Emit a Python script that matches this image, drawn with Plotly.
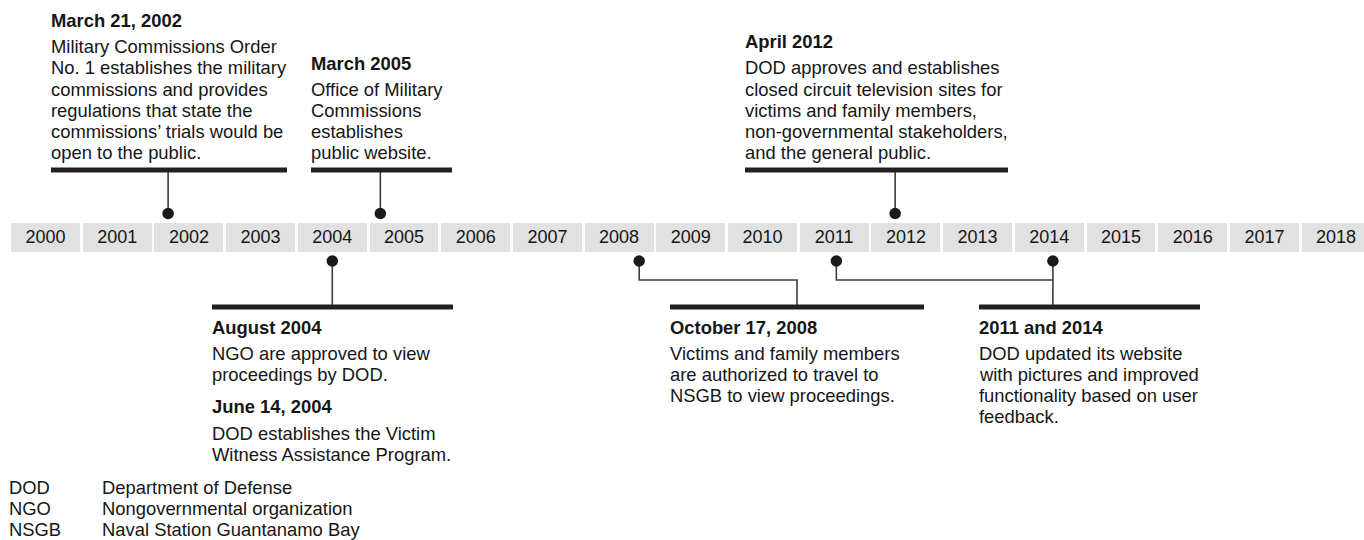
import plotly.graph_objects as go

# ---------------- data ----------------
years = list(range(2000, 2019))
year_labels = [str(y) for y in years]

# events above the time line (decimal year)
top_titles = ["March 21, 2002", "March 2005", "April 2012"]
top_dates = [2002.21, 2005.17, 2012.35]
top_texts = [
    ["Military Commissions Order", "No. 1 establishes the military",
     "commissions and provides", "regulations that state the",
     "commissions\u2019 trials would be", "open to the public."],
    ["Office of Military", "Commissions", "establishes", "public website."],
    ["DOD approves and establishes", "closed circuit television sites for",
     "victims and family members,", "non-governmental stakeholders,",
     "and the general public."],
]

# events below the time line
bottom_titles = ["August 2004", "October 17, 2008", "2011 and 2014"]
bottom_dates = [[2004.50], [2008.78], [2011.53, 2014.55]]
bottom_texts = [
    ["NGO are approved to view", "proceedings by DOD."],
    ["Victims and family members", "are authorized to travel to",
     "NSGB to view proceedings."],
    ["DOD updated its website", "with pictures and improved",
     "functionality based on user", "feedback."],
]
extra_title = "June 14, 2004"
extra_text = ["DOD establishes the Victim", "Witness Assistance Program."]

abbreviations = ["DOD", "NGO", "NSGB"]
definitions = ["Department of Defense", "Nongovernmental organization",
               "Naval Station Guantanamo Bay"]

# ---------------- layout constants (pixels) ----------------
W, H = 1364, 540
PX0, PITCH = 9.65, 71.7
def xd(px):
    return 2000 + (px - PX0) / PITCH

FONT = "Liberation Sans, Arial, Helvetica, sans-serif"
TXT = "#161616"
BAR = "#231f20"
STEM = "#3c3c3c"
FS = 18.4
FS_YEAR = 18
LS = 21.1

top_left = [51, 311, 745]
top_right = [287, 452, 1008]
bot_left = [212, 670, 979]
bot_right = [453, 924, 1200]
TOP_BAR_Y, TOP_DOT_Y = 170, 213.5
BOT_BAR_Y, BOT_DOT_Y, CONN_Y = 307, 261, 280
BOX_TOP, BOX_H = 223, 29

fig = go.Figure()

# year boxes
fig.add_trace(go.Bar(
    x=[y + 0.5 for y in years], y=[BOX_H] * len(years), base=BOX_TOP,
    width=0.962, marker=dict(color="#e1e1e1", line=dict(width=0)),
    hoverinfo="skip", showlegend=False))
fig.add_trace(go.Scatter(
    x=[y + 0.5 for y in years], y=[BOX_TOP + BOX_H / 2 + 0.5] * len(years),
    mode="text", text=year_labels,
    textfont=dict(family=FONT, size=FS_YEAR, color=TXT),
    hoverinfo="skip", showlegend=False))

def line(xs, ys, width, color):
    fig.add_trace(go.Scatter(x=xs, y=ys, mode="lines",
                             line=dict(width=width, color=color),
                             hoverinfo="skip", showlegend=False))

annotations = []
def text(px, py, s, bold=False):
    annotations.append(dict(
        x=(px - 2) / W, xref="paper", y=py, yref="y", xanchor="left",
        yanchor="middle", showarrow=False,
        text=("<b>%s</b>" % s) if bold else s,
        font=dict(family=FONT, size=FS, color=TXT)))

# top callouts
for i, d in enumerate(top_dates):
    line([d, d], [TOP_DOT_Y, TOP_BAR_Y], 1.6, STEM)
    line([xd(top_left[i]), xd(top_right[i])], [TOP_BAR_Y, TOP_BAR_Y], 5, BAR)
    lines = top_texts[i]
    last = 152.3
    first = last - LS * (len(lines) - 1)
    text(top_left[i], first - 26, top_titles[i], bold=True)
    for k, s in enumerate(lines):
        text(top_left[i], first + LS * k, s)

# bottom callouts: connectors
aug = bottom_dates[0][0]
line([aug, aug], [BOT_DOT_Y, BOT_BAR_Y], 1.6, STEM)
octd = bottom_dates[1][0]
elbow = xd((bot_left[1] + bot_right[1]) / 2)
line([octd, octd, elbow, elbow], [BOT_DOT_Y, CONN_Y, CONN_Y, BOT_BAR_Y], 1.6, STEM)
d11, d14 = bottom_dates[2]
line([d11, d11, d14], [BOT_DOT_Y, CONN_Y, CONN_Y], 1.6, STEM)
line([d14, d14], [BOT_DOT_Y, BOT_BAR_Y], 1.6, STEM)

for i in range(3):
    line([xd(bot_left[i]), xd(bot_right[i])], [BOT_BAR_Y, BOT_BAR_Y], 5, BAR)
    text(bot_left[i], 327, bottom_titles[i], bold=True)
    for k, s in enumerate(bottom_texts[i]):
        text(bot_left[i], 353.3 + LS * k, s)

text(bot_left[0], 406.5, extra_title, bold=True)
for k, s in enumerate(extra_text):
    text(bot_left[0], 433 + LS * k, s)

# dots
dot_x = top_dates + [d for g in bottom_dates for d in g]
dot_y = [TOP_DOT_Y] * len(top_dates) + [BOT_DOT_Y] * sum(len(g) for g in bottom_dates)
fig.add_trace(go.Scatter(x=dot_x, y=dot_y, mode="markers",
                         marker=dict(size=11.5, color="#1a1a1a"),
                         hoverinfo="skip", showlegend=False))

# abbreviation list
for k, (a, dfn) in enumerate(zip(abbreviations, definitions)):
    text(9, 487.5 + LS * k, a)
    text(102, 487.5 + LS * k, dfn)

fig.update_layout(
    width=W, height=H, margin=dict(l=0, r=0, t=0, b=0),
    paper_bgcolor="white", plot_bgcolor="white",
    xaxis=dict(range=[xd(0), xd(W)], visible=False, fixedrange=True),
    yaxis=dict(range=[H, 0], visible=False, fixedrange=True),
    annotations=annotations, bargap=0, showlegend=False,
)

fig.write_html("out.html", config={"displayModeBar": False},
               post_script="document.body.style.margin='0';document.body.style.overflow='hidden';")
